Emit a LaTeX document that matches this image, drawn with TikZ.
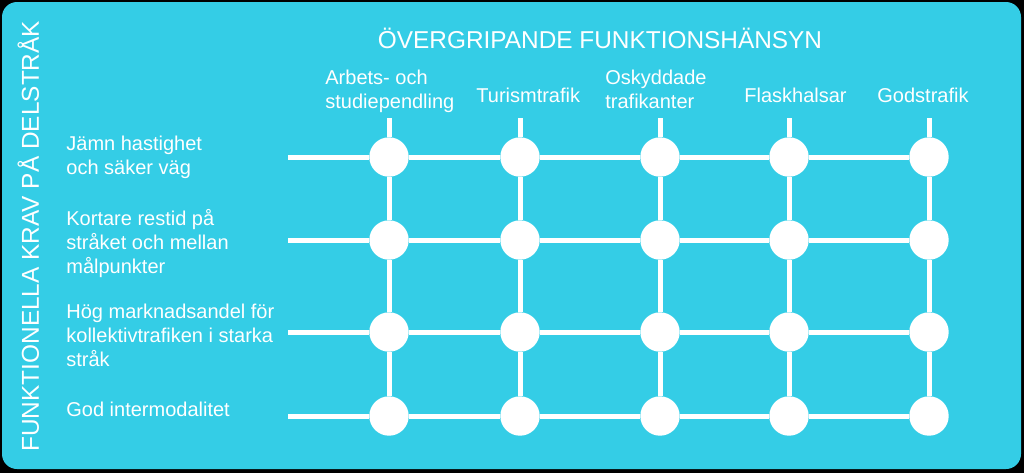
\documentclass[tikz,border=0pt]{standalone}
\usepackage{fontspec}
\setmainfont{Liberation Sans}
\usepackage{tikz}

\definecolor{skyband}{RGB}{52,205,230}

\begin{document}
\begin{tikzpicture}[x=0.5pt,y=-0.5pt,
    knot/.style={circle,fill=white,inner sep=0pt,minimum size=19.7pt},
    rail/.style={white,line width=2.5pt},
    lbl/.style={text=white,inner sep=0pt,align=left,font=\fontsize{10}{12}\selectfont},
    head/.style={text=white,inner sep=0pt,font=\fontsize{12.2}{14}\selectfont}]

      \fill[black] (0,0) rectangle (1024,473);
      \fill[skyband,rounded corners=7.5pt] (2,2) rectangle (1021,469);

      \node[head,anchor=base] (Titel) at (600,48) {ÖVERGRIPANDE FUNKTIONSHÄNSYN};
      \node[head,anchor=base west,rotate=90] (Krav) at (39,452) {FUNKTIONELLA KRAV PÅ DELSTRÅK};

      \node[lbl,anchor=north west] (Arb) at (325,70) {Arbets- och\\studiependling};
      \node[lbl,anchor=base west] (Tur) at (476,102) {Turismtrafik};
      \node[lbl,anchor=north west] (Osk) at (605,70) {Oskyddade\\trafikanter};
      \node[lbl,anchor=base west] (Fla) at (744,102) {Flaskhalsar};
      \node[lbl,anchor=base west] (God) at (877,102) {Godstrafik};

      \node[lbl,anchor=north west] (Jam) at (66,136) {Jämn hastighet\\och säker väg};
      \node[lbl,anchor=north west] (Kor) at (66,209) {Kortare restid på\\stråket och mellan\\målpunkter};
      \node[lbl,anchor=north west] (Hog) at (66,304) {Hög marknadsandel för\\kollektivtrafiken i starka\\stråk};
      \node[lbl,anchor=base west] (Int) at (66,416) {God intermodalitet};

      \coordinate (H1) at (288,157);
      \coordinate (H2) at (288,240);
      \coordinate (H3) at (288,332);
      \coordinate (H4) at (288,416);
      \coordinate (V1) at (389,118);
      \coordinate (V2) at (520,118);
      \coordinate (V3) at (660,118);
      \coordinate (V4) at (789,118);
      \coordinate (V5) at (929,118);

      \node[knot] (A1) at (389,157) {};
      \node[knot] (A2) at (389,240) {};
      \node[knot] (A3) at (389,332) {};
      \node[knot] (A4) at (389,416) {};
      \node[knot] (T1) at (520,157) {};
      \node[knot] (T2) at (520,240) {};
      \node[knot] (T3) at (520,332) {};
      \node[knot] (T4) at (520,416) {};
      \node[knot] (O1) at (660,157) {};
      \node[knot] (O2) at (660,240) {};
      \node[knot] (O3) at (660,332) {};
      \node[knot] (O4) at (660,416) {};
      \node[knot] (F1) at (789,157) {};
      \node[knot] (F2) at (789,240) {};
      \node[knot] (F3) at (789,332) {};
      \node[knot] (F4) at (789,416) {};
      \node[knot] (G1) at (929,157) {};
      \node[knot] (G2) at (929,240) {};
      \node[knot] (G3) at (929,332) {};
      \node[knot] (G4) at (929,416) {};

      \draw[rail] (H1) -- (A1) -- (T1) -- (O1) -- (F1) -- (G1);
      \draw[rail] (H2) -- (A2) -- (T2) -- (O2) -- (F2) -- (G2);
      \draw[rail] (H3) -- (A3) -- (T3) -- (O3) -- (F3) -- (G3);
      \draw[rail] (H4) -- (A4) -- (T4) -- (O4) -- (F4) -- (G4);
      \draw[rail] (V1) -- (A1) -- (A2) -- (A3) -- (A4);
      \draw[rail] (V2) -- (T1) -- (T2) -- (T3) -- (T4);
      \draw[rail] (V3) -- (O1) -- (O2) -- (O3) -- (O4);
      \draw[rail] (V4) -- (F1) -- (F2) -- (F3) -- (F4);
      \draw[rail] (V5) -- (G1) -- (G2) -- (G3) -- (G4);
  \end{tikzpicture}
\end{document}
